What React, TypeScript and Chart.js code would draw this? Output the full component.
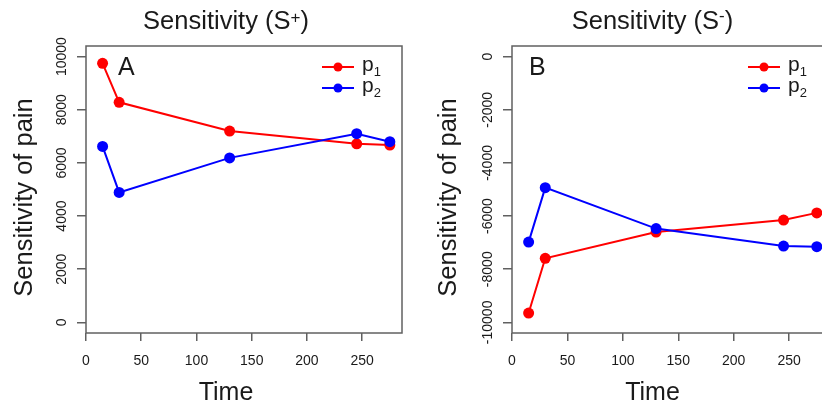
import { useEffect, useRef } from 'react';
import { Chart, registerables } from 'chart.js';

Chart.register(...registerables);

// ---------------- data ----------------
const timePoints = [15, 30, 130, 245, 275];
const posP1 = [9750, 8280, 7200, 6720, 6670];
const posP2 = [6620, 4890, 6190, 7100, 6800];
const negP1 = [-9650, -7590, -6600, -6150, -5880];
const negP2 = [-6980, -4930, -6470, -7130, -7150];
const xTicks = [0, 50, 100, 150, 200, 250];
const posYTicks = [0, 2000, 4000, 6000, 8000, 10000];
const negYTicks = [0, -2000, -4000, -6000, -8000, -10000];
const seriesNames = ['p', 'p'];
const seriesSubs = ['1', '2'];

// ---------------- styles ----------------
const FONT = '"Liberation Sans", Arial, Helvetica, sans-serif';
const RED = '#FF0000';
const BLUE = '#0000FF';
const AXIS = '#606060';
const TEXT = '#1a1a1a';

const decorPlugin = {
  id: 'panelDecor',
  afterDraw(chart: any, _args: any, o: any) {
    const ctx = chart.ctx as CanvasRenderingContext2D;
    const a = chart.chartArea;
    ctx.save();
    // box
    ctx.strokeStyle = AXIS;
    ctx.lineWidth = 1.5;
    ctx.strokeRect(a.left, a.top, a.right - a.left, a.bottom - a.top);

    // rotated y tick labels
    const ys = chart.scales.y;
    ctx.fillStyle = TEXT;
    ctx.font = `14px ${FONT}`;
    ctx.textAlign = 'center';
    ctx.textBaseline = 'alphabetic';
    for (const t of ys.ticks) {
      const py = ys.getPixelForValue(t.value);
      ctx.save();
      ctx.translate(a.left - 20.5, py);
      ctx.rotate(-Math.PI / 2);
      ctx.fillText(String(t.value), 0, 0);
      ctx.restore();
    }

    const cx = (a.left + a.right) / 2 + o.centerShift;

    // y axis title
    ctx.font = `25.5px ${FONT}`;
    ctx.save();
    ctx.translate(a.left - o.yTitleGap, (a.top + a.bottom) / 2 + 8);
    ctx.rotate(-Math.PI / 2);
    ctx.fillText('Sensitivity of pain', 0, 0);
    ctx.restore();

    // x axis title
    ctx.font = `25px ${FONT}`;
    ctx.fillText('Time', cx, 400);

    // main title with superscript
    const mainFont = `25.5px ${FONT}`;
    const supFont = `17px ${FONT}`;
    const part1 = 'Sensitivity (S';
    const part3 = ')';
    ctx.font = mainFont;
    const w1 = ctx.measureText(part1).width;
    const w3 = ctx.measureText(part3).width;
    ctx.font = supFont;
    const w2 = ctx.measureText(o.sup).width;
    const x0 = cx - (w1 + w2 + w3) / 2;
    ctx.textAlign = 'left';
    ctx.font = mainFont;
    ctx.fillText(part1, x0, 28.5);
    ctx.font = supFont;
    ctx.fillText(o.sup, x0 + w1, 28.5 - o.supRaise);
    ctx.font = mainFont;
    ctx.fillText(part3, x0 + w1 + w2, 28.5);

    // panel letter
    ctx.font = `25px ${FONT}`;
    ctx.fillText(o.letter, a.left + o.letterOffset, 75);

    // legend
    const colors = [RED, BLUE];
    for (let i = 0; i < 2; i++) {
      const ly = a.top + 21 + i * 21;
      ctx.strokeStyle = colors[i];
      ctx.lineWidth = 2;
      ctx.beginPath();
      ctx.moveTo(a.left + 236, ly);
      ctx.lineTo(a.left + 268, ly);
      ctx.stroke();
      ctx.fillStyle = colors[i];
      ctx.beginPath();
      ctx.arc(a.left + 252, ly, 4.5, 0, Math.PI * 2);
      ctx.fill();
      ctx.fillStyle = TEXT;
      ctx.font = `21px ${FONT}`;
      ctx.fillText(seriesNames[i], a.left + 276, ly + 4.2);
      const pw = ctx.measureText(seriesNames[i]).width;
      ctx.font = `13px ${FONT}`;
      ctx.fillText(seriesSubs[i], a.left + 276 + pw, ly + 9.3);
    }
    ctx.restore();
  },
};

function makeConfig(p: any) {
  const ds = (vals: number[], color: string, order: number) => ({
    data: timePoints.map((t, i) => ({ x: t, y: vals[i] })),
    borderColor: color,
    backgroundColor: color,
    borderWidth: 2,
    pointRadius: 5.5,
    pointBorderWidth: 0,
    pointHoverRadius: 5.5,
    tension: 0,
    order,
  });
  return {
    type: 'line',
    data: {
      datasets: [ds(p.v1, RED, 1), ds(p.v2, BLUE, 0)],
    },
    options: {
      responsive: false,
      animation: false,
      devicePixelRatio: 1,
      events: [],
      layout: { padding: { left: 0, top: 46, right: p.canvasW - p.areaRight, bottom: 0 } },
      plugins: {
        legend: { display: false },
        title: { display: false },
        tooltip: { enabled: false },
        panelDecor: {
          sup: p.sup,
          supRaise: p.supRaise,
          letter: p.letter,
          letterOffset: p.letterOffset,
          centerShift: -18,
          yTitleGap: p.yTitleGap,
        },
      },
      scales: {
        x: {
          type: 'linear',
          min: 0,
          max: 286,
          afterBuildTicks: (s: any) => {
            s.ticks = xTicks.map((v) => ({ value: v }));
          },
          afterFit: (s: any) => {
            s.height = 411 - 333;
          },
          border: { display: false },
          grid: { drawOnChartArea: false, drawTicks: true, tickLength: 8, color: AXIS, lineWidth: 1.5 },
          ticks: {
            color: TEXT,
            font: { family: FONT, size: 14 },
            padding: 12,
            maxRotation: 0,
            minRotation: 0,
            autoSkip: false,
          },
        },
        y: {
          type: 'linear',
          min: p.yMin,
          max: p.yMax,
          afterBuildTicks: (s: any) => {
            s.ticks = p.yTicks.map((v: number) => ({ value: v }));
          },
          afterFit: (s: any) => {
            s.width = p.areaLeft;
          },
          border: { display: false },
          grid: { drawOnChartArea: false, drawTicks: true, tickLength: 9, color: AXIS, lineWidth: 1.5 },
          ticks: { display: false },
        },
      },
    },
    plugins: [decorPlugin],
  } as any;
}

const panels = [
  {
    key: 'A',
    left: 0,
    canvasW: 411,
    areaLeft: 86,
    areaRight: 402,
    v1: posP1,
    v2: posP2,
    yMin: -400,
    yMax: 10400,
    yTicks: posYTicks,
    sup: '+',
    supRaise: 6,
    letter: 'A',
    letterOffset: 32,
    yTitleGap: 54.5,
  },
  {
    key: 'B',
    left: 411,
    canvasW: 430,
    areaLeft: 101,
    areaRight: 418,
    v1: negP1,
    v2: negP2,
    yMin: -10400,
    yMax: 400,
    yTicks: negYTicks,
    sup: '-',
    supRaise: 8,
    letter: 'B',
    letterOffset: 17,
    yTitleGap: 56,
  },
];

function Panel({ p }: { p: any }) {
  const ref = useRef<HTMLCanvasElement | null>(null);
  useEffect(() => {
    if (!ref.current) return;
    const chart = new Chart(ref.current, makeConfig(p));
    return () => chart.destroy();
  }, [p]);
  return (
    <canvas
      ref={ref}
      width={p.canvasW}
      height={411}
      style={{ position: 'absolute', left: p.left, top: 0, width: p.canvasW, height: 411 }}
    />
  );
}

export default function App() {
  return (
    <div
      style={{
        position: 'fixed',
        left: 0,
        top: 0,
        width: 822,
        height: 411,
        overflow: 'hidden',
        background: '#ffffff',
      }}
    >
      {panels.map((p) => (
        <Panel key={p.key} p={p} />
      ))}
    </div>
  );
}
